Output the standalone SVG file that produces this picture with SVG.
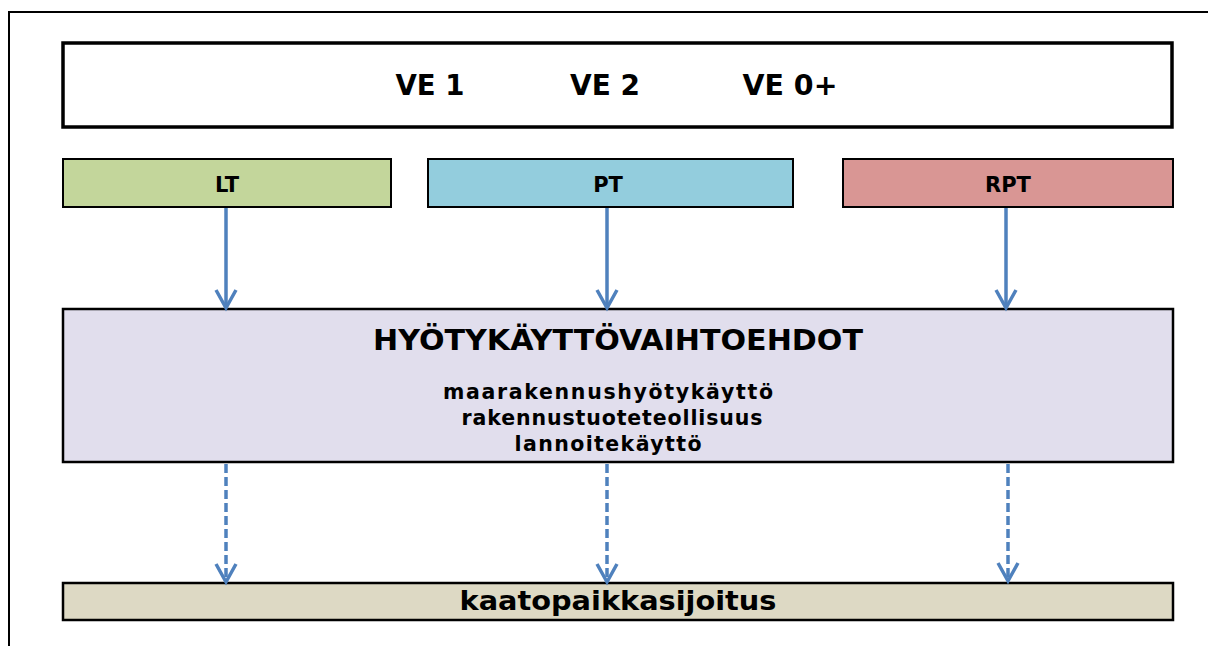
<svg xmlns="http://www.w3.org/2000/svg" width="1208" height="646" viewBox="0 0 1208 646">
<style>
text{font-family:"DejaVu Sans","Liberation Sans",sans-serif;font-weight:bold;fill:#000;text-anchor:middle}
.box{stroke:#000}
.conn{stroke:#4F81BD;stroke-width:3.5;fill:none}
.dash{stroke-dasharray:9 4}
.sub{font-size:20.5px}
</style>
<defs>
<marker id="ah" markerUnits="userSpaceOnUse" markerWidth="24" markerHeight="26" viewBox="0 0 24 26" refX="20" refY="13" orient="auto">
<path d="M2,3 L20,13 L2,23" fill="none" stroke="#4F81BD" stroke-width="3.5"/>
</marker>
</defs>
<rect width="1208" height="646" fill="#fff"/>
<path d="M9,646 V12 H1208" fill="none" stroke="#000" stroke-width="2"/>
<g id="variants">
<rect class="box" x="63" y="43" width="1109" height="84" fill="#fff" stroke-width="3.5"/>
<text x="430" y="95" font-size="27.5" textLength="69" lengthAdjust="spacingAndGlyphs">VE 1</text>
<text x="605" y="95" font-size="27.5" textLength="70" lengthAdjust="spacingAndGlyphs">VE 2</text>
<text x="790" y="95" font-size="27.5" textLength="95" lengthAdjust="spacingAndGlyphs">VE 0+</text>
</g>
<g id="LT">
<rect class="box" x="63" y="159" width="328" height="48" fill="#C3D69B" stroke-width="2"/>
<text x="227" y="192" font-size="21">LT</text>
</g>
<g id="PT">
<rect class="box" x="428" y="159" width="365" height="48" fill="#93CDDD" stroke-width="2"/>
<text x="608" y="192" font-size="21">PT</text>
</g>
<g id="RPT">
<rect class="box" x="843" y="159" width="330" height="48" fill="#D99694" stroke-width="2"/>
<text x="1008" y="192" font-size="21">RPT</text>
</g>
<g id="hyotykaytto">
<rect class="box" x="63" y="309" width="1110" height="153" fill="#E1DEED" stroke-width="2.5"/>
<text x="618" y="350" font-size="28" textLength="490" lengthAdjust="spacingAndGlyphs">HYÖTYKÄYTTÖVAIHTOEHDOT</text>
<text class="sub" x="608" y="399" textLength="330" lengthAdjust="spacing">maarakennushyötykäyttö</text>
<text class="sub" x="612" y="425" textLength="301" lengthAdjust="spacing">rakennustuoteteollisuus</text>
<text class="sub" x="608" y="451" textLength="187" lengthAdjust="spacing">lannoitekäyttö</text>
</g>
<g id="kaatopaikka">
<rect class="box" x="63" y="583" width="1110" height="37" fill="#DDD9C4" stroke-width="2.5"/>
<text x="618" y="610" font-size="27" textLength="317" lengthAdjust="spacingAndGlyphs">kaatopaikkasijoitus</text>
</g>
<g id="connectors">
<line class="conn" x1="226" y1="208" x2="226" y2="308" marker-end="url(#ah)"/>
<line class="conn" x1="607" y1="208" x2="607" y2="308" marker-end="url(#ah)"/>
<line class="conn" x1="1006" y1="208" x2="1006" y2="308" marker-end="url(#ah)"/>
<line class="conn dash" x1="226" y1="464" x2="226" y2="582" marker-end="url(#ah)"/>
<line class="conn dash" x1="607" y1="464" x2="607" y2="582" marker-end="url(#ah)"/>
<line class="conn dash" x1="1008" y1="464" x2="1008" y2="581" marker-end="url(#ah)"/>
</g>
</svg>
